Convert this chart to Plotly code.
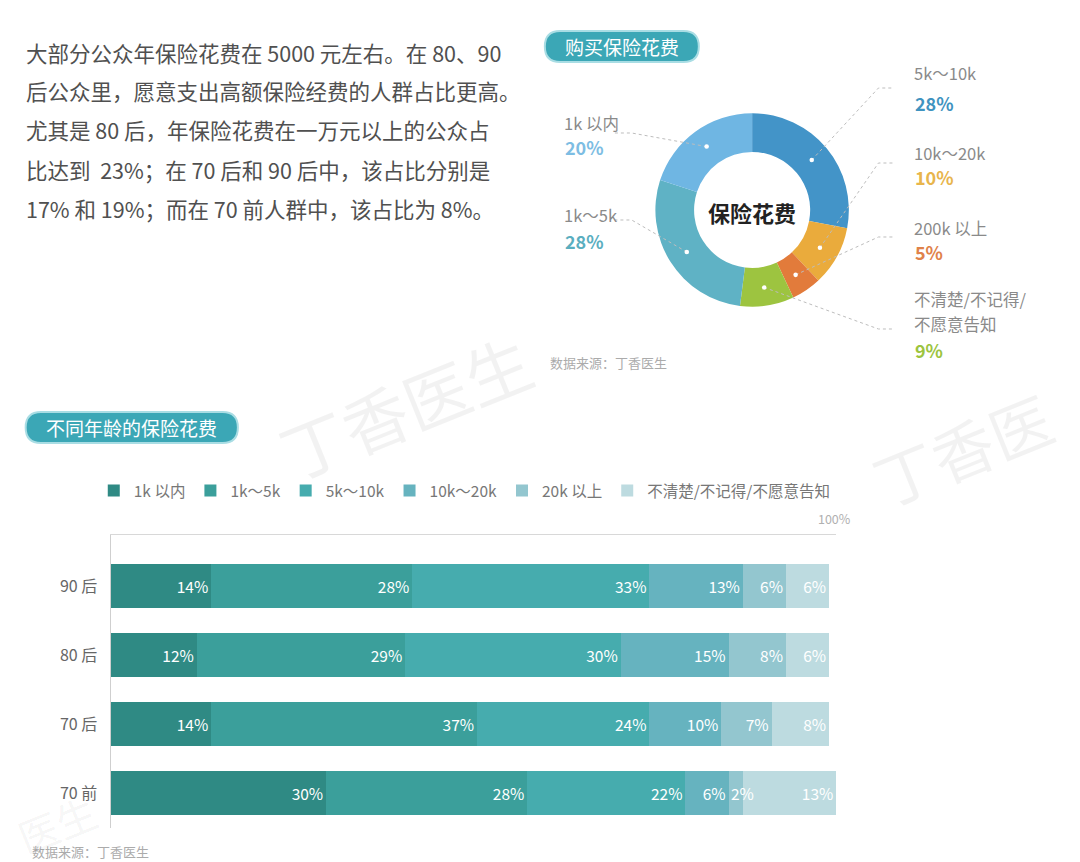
import math
import plotly.graph_objects as go

W, H = 1080, 862
FONT = "Noto Sans CJK SC"

# ---------------- data ----------------
intro_lines = [
    "大部分公众年保险花费在 5000 元左右。在 80、90",
    "后公众里，愿意支出高额保险经费的人群占比更高。",
    "尤其是 80 后，年保险花费在一万元以上的公众占",
    "比达到  23%；在 70 后和 90 后中，该占比分别是",
    "17% 和 19%；而在 70 前人群中，该占比为 8%。",
]

pie_labels = ["5k～10k", "10k～20k", "200k 以上", "不清楚/不记得/不愿意告知", "1k～5k", "1k 以内"]
pie_label_lines = [["5k～10k"], ["10k～20k"], ["200k 以上"], ["不清楚/不记得/", "不愿意告知"],
                   ["1k～5k"], ["1k 以内"]]
pie_values = [28, 10, 5, 9, 28, 20]
pie_colors = ["#4394c8", "#eaab3c", "#e27b3b", "#9dc440", "#5fb2c5", "#6fb6e3"]
pie_text_colors = ["#3f93c0", "#e8b54c", "#e0824a", "#9cc43e", "#5aaebf", "#7dbde3"]

ages = ["90 后", "80 后", "70 后", "70 前"]
bar_series = ["1k 以内", "1k～5k", "5k～10k", "10k～20k", "20k 以上", "不清楚/不记得/不愿意告知"]
bar_values = [
    [14, 12, 14, 30],
    [28, 29, 37, 28],
    [33, 30, 24, 22],
    [13, 15, 10, 6],
    [6, 8, 7, 2],
    [6, 6, 8, 13],
]
bar_colors = ["#2f8a84", "#3b9f9b", "#46acae", "#66b3bf", "#93c6cf", "#bddbe0"]


def px(x, y):
    return x / W, 1 - y / H


def pill_path(x0, y0, x1, y1):
    r = (y1 - y0) / 2
    def P(x, y):
        a, b = px(x, y)
        return f"{a:.5f},{b:.5f}"
    return (f"M{P(x0 + r, y0)} L{P(x1 - r, y0)} Q{P(x1, y0)} {P(x1, y0 + r)} "
            f"Q{P(x1, y1)} {P(x1 - r, y1)} L{P(x0 + r, y1)} Q{P(x0, y1)} {P(x0, y1 - r)} "
            f"Q{P(x0, y0)} {P(x0 + r, y0)} Z")


def note(x, y, text, size, color, xa="center", ya="middle", **kw):
    a, b = px(x, y)
    return dict(x=a, y=b, xref="paper", yref="paper", text=text, showarrow=False,
                xanchor=xa, yanchor=ya, font=dict(size=size, color=color), **kw)


fig = go.Figure()
ann = []
shapes = []

# ---------------- donut ----------------
cx, cy, R = 762, 210, 98
dx0, dy0 = px(cx - R, cy + R)
dx1, dy1 = px(cx + R, cy - R)
fig.add_trace(go.Pie(
    labels=pie_labels, values=pie_values, hole=0.6, sort=False,
    direction="clockwise", rotation=0, textinfo="none",
    marker=dict(colors=pie_colors, line=dict(width=0)),
    domain=dict(x=[dx0, dx1], y=[dy0, dy1]), showlegend=False, hoverinfo="label+percent",
))

# ---------------- stacked bars ----------------
BAR_FS = 15.5
cum_bar = [0] * len(ages)
for name, vals, col in zip(bar_series, bar_values, bar_colors):
    positions = []
    for j, v in enumerate(vals):
        cum_bar[j] += v
        if v <= 3:  # too narrow: label centred on the segment's end instead
            positions.append("none")
            ann.append(dict(x=cum_bar[j], y=ages[j], xref="x", yref="y", text=f"{v}%",
                            showarrow=False, xanchor="center", yanchor="middle",
                            font=dict(size=BAR_FS, color="white", family=FONT)))
        else:
            positions.append("inside")
    fig.add_trace(go.Bar(
        y=ages, x=vals, orientation="h", name=name,
        marker=dict(color=col, line=dict(width=0)),
        text=[f"{v}%" for v in vals], textposition=positions, insidetextanchor="end",
        constraintext="none", textangle=0, cliponaxis=False,
        textfont=dict(color="white", size=BAR_FS, family=FONT),
        xaxis="x", yaxis="y",
    ))

px_left, px_100 = 112, 840
x_max = 101
px_right = px_left + (px_100 - px_left) * x_max / 100
y_top, y_bot = 535, 827.5
fig.update_layout(
    width=W, height=H, margin=dict(l=0, r=0, t=0, b=0),
    paper_bgcolor="white", plot_bgcolor="white",
    font=dict(family=FONT, color="#666"),
    barmode="stack", bargap=0.36,
    xaxis=dict(domain=[px_left / W, px_right / W], range=[0, x_max], side="top",
               showgrid=False, zeroline=False, showline=True, linecolor="#d8d8d8", linewidth=1,
               tickvals=[100], ticktext=["100%"], ticks="", fixedrange=True,
               ticklabelshift=5, ticklabelstandoff=5,
               tickfont=dict(size=12.5, color="#b0b0b0")),
    yaxis=dict(domain=[1 - y_bot / H, 1 - y_top / H], range=[3.5, -0.74],
               showgrid=False, zeroline=False, showline=True, linecolor="#cfcfcf", linewidth=1,
               ticks="", ticklabelstandoff=9, tickfont=dict(size=16, color="#666"),
               fixedrange=True),
    legend=dict(orientation="h", x=95 / W, xanchor="left", y=1 - 491 / H, yanchor="middle",
                font=dict(size=15.5, color="#777"), itemwidth=30, bgcolor="rgba(0,0,0,0)",
                traceorder="normal"),
)

# intro text
for i, line in enumerate(intro_lines):
    ann.append(note(24, 52 + i * 39, line, 21.5, "#505050", xa="left"))

# pills
for (x0, y0, x1, y1, label, fs) in [(552, 31, 708, 62, "购买保险花费", 19),
                                     (26, 412, 241, 443, "不同年龄的保险花费", 19)]:
    shapes.append(dict(type="path", path=pill_path(x0, y0, x1, y1), xref="paper", yref="paper",
                       fillcolor="#3ba7b6", line=dict(color="#a9dde4", width=2), layer="below"))
    ann.append(note((x0 + x1) / 2, (y0 + y1) / 2, label, fs, "white"))

# donut centre text
ann.append(note(cx, cy + 2, "<b>保险花费</b>", 22, "#222"))

# donut labels, leader lines and dots (dots from slice mid-angles)
label_pos = {  # slice index: (label x, first name line y, pct y, line y, side)
    0: (925, 73, 103, 88, "r"),
    1: (925, 153, 177, 163, "r"),
    2: (925, 228, 252, 237, "r"),
    3: (925, 299, 350, 329, "r"),
    4: (570, 215, 241, 220, "l"),
    5: (570, 123, 147, 133, "l"),
}
total = sum(pie_values)
cum = 0
for i, v in enumerate(pie_values):
    mid = (cum + v / 2) / total * 2 * math.pi
    cum += v
    rd = R * 0.8
    dxp, dyp = cx + rd * math.sin(mid), cy - rd * math.cos(mid)
    lx, ny, py_, ly, side = label_pos[i]
    if side == "r":
        ex, endx = 890, 905
    else:
        ex, endx = 640, 622
    p0, p1, p2 = px(dxp, dyp), px(ex, ly), px(endx, ly)
    shapes.append(dict(type="path", xref="paper", yref="paper",
                       path=f"M{p0[0]:.5f},{p0[1]:.5f} L{p1[0]:.5f},{p1[1]:.5f} L{p2[0]:.5f},{p2[1]:.5f}",
                       line=dict(color="#bdbdbd", width=1, dash="dot")))
    r = 2.3
    a0, b0 = px(dxp - r, dyp + r)
    a1, b1 = px(dxp + r, dyp - r)
    shapes.append(dict(type="circle", xref="paper", yref="paper", x0=a0, y0=b0, x1=a1, y1=b1,
                       fillcolor="white", line=dict(width=0)))
    for k, ln in enumerate(pie_label_lines[i]):
        ann.append(note(lx, ny + k * 25, ln, 16.5, "#8a8a8a", xa="left", borderpad=0))
    ann.append(note(lx, py_, f"<b>{v}%</b>", 18, pie_text_colors[i], xa="left"))

# sources
ann.append(note(555, 362, "数据来源：丁香医生", 13, "#ababab", xa="left"))
ann.append(note(30, 851, "数据来源：丁香医生", 13, "#ababab", xa="left"))

# watermarks
for wx, wy, wt, ws in [(410, 405, "丁香医生", 66), (975, 448, "丁香医", 62), (58, 824, "医生", 40)]:
    ann.append(note(wx, wy, wt, ws, "rgba(0,0,0,0.05)", textangle=-22))

fig.update_layout(shapes=shapes, annotations=ann)
fig.write_html("out.html", config={"displayModeBar": False},
               post_script="document.body.style.margin='0px';")
